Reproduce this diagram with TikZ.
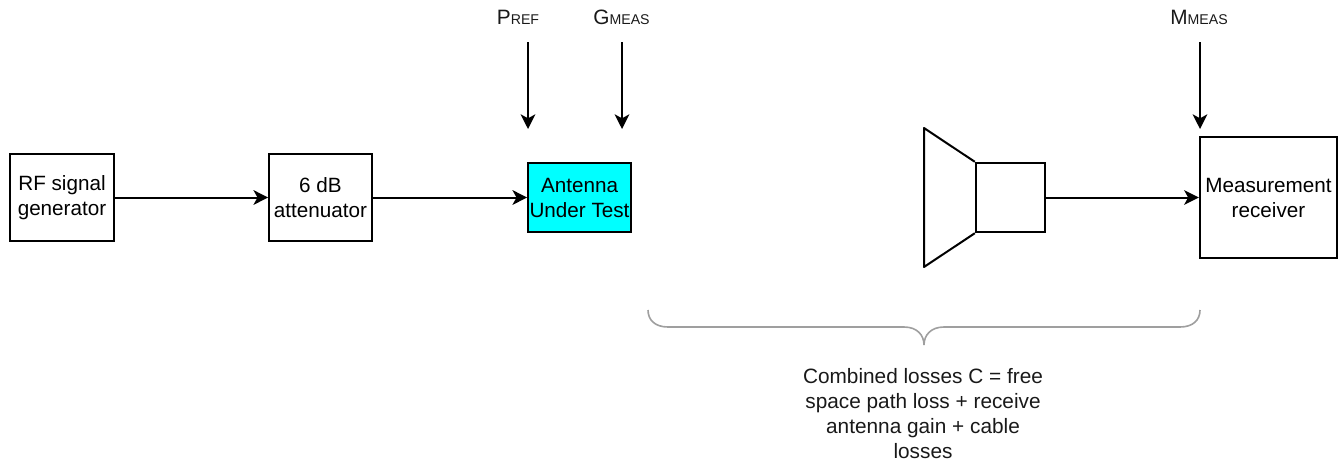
\documentclass[tikz,border=0pt]{standalone}
\usepackage{fontspec}
\setmainfont{Liberation Sans}
\usetikzlibrary{arrows.meta}

\definecolor{autfill}{RGB}{0,255,255}

\newcommand{\lblsc}[2]{{\fontsize{15.6}{18.75}\selectfont #1}{\fontsize{10.6}{14}\selectfont #2}}

\begin{document}
\begin{tikzpicture}[x=0.75pt,y=-0.75pt]

\tikzstyle{block} = [draw=black,line width=1.5pt,align=center,inner sep=0pt,font=\fontsize{15.5}{18.75}\selectfont]
\tikzstyle{edge} = [-{Stealth[length=11pt,width=11pt,inset=3pt]},line width=1.5pt]
\tikzstyle{lbl} = [inner sep=0pt,text=black!90]

\useasboundingbox (0,0) rectangle (1338,461);

\node[block,minimum width=78pt,minimum height=65pt](gen) at (62,197.5){RF signal\\generator};
\node[block,minimum width=77pt,minimum height=65pt](att) at (320.5,197.5){6 dB\\attenuator};
\node[block,fill=autfill,minimum width=77pt,minimum height=52pt](aut) at (579.5,197.5){Antenna\\Under Test};
\node[block,minimum width=52pt,minimum height=52pt](horn) at (1010.5,197.5){};
\node[block,minimum width=103pt,minimum height=91pt,anchor=west](rcv) at (1198.8,197.5){Measurement\\receiver};

\node[lbl](pref) at (518,17){\lblsc{P}{REF}};
\node[lbl](gmeas) at (621.5,17){\lblsc{G}{MEAS}};
\node[lbl](mmeas) at (1199,17){\lblsc{M}{MEAS}};

\coordinate (p1) at (528,42);
\coordinate (p2) at (528,129);
\coordinate (g1) at (622,42);
\coordinate (g2) at (622,129);
\coordinate (m1) at (1200,42);
\coordinate (m2) at (1200,129);

\draw[edge] (gen) -- (att);
\draw[edge] (att) -- (aut);
\draw[edge] (horn) -- (rcv);
\draw[edge] (p1) -- (p2);
\draw[edge] (g1) -- (g2);
\draw[edge] (m1) -- (m2);

\draw[line width=1.5pt,line join=round] (horn.north west) -- (924,128) -- (924,267) -- (horn.south west);

\draw[gray!75,line width=1.2pt] (648,310) .. controls (648,320) and (655,327) .. (668,327) -- (904,327) .. controls (917,327) and (924,335) .. (924,345) .. controls (924,335) and (931,327) .. (944,327) -- (1180,327) .. controls (1193,327) and (1200,320) .. (1200,310);

\node[lbl,align=center,font=\fontsize{15.6}{18.75}\selectfont](loss) at (923,413.5){Combined losses C = free\\space path loss + receive\\antenna gain + cable\\losses};

\end{tikzpicture}
\end{document}
